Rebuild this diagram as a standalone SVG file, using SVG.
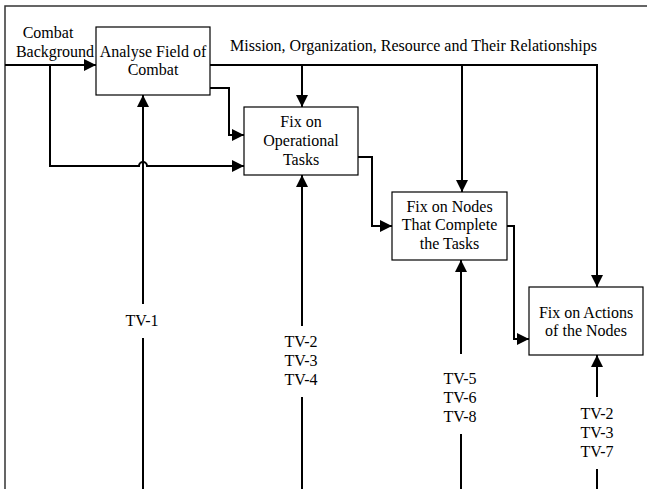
<svg xmlns="http://www.w3.org/2000/svg" width="647" height="489" viewBox="0 0 647 489">
  <style>
    .box { fill: #fff; stroke: #000; stroke-width: 1.2; }
    .conn { fill: none; stroke: #000; stroke-width: 2; }
    .frame { fill: none; stroke: #333; stroke-width: 1.5; }
  </style>
  <defs>
    <marker id="arrow" viewBox="0 0 12 12" refX="12" refY="6" markerWidth="12" markerHeight="12" markerUnits="userSpaceOnUse" orient="auto">
      <path d="M0,0 L12,6 L0,12 Z" fill="#000"/>
    </marker>
  </defs>

  <rect width="647" height="489" fill="#fff"/>

  <!-- outer frame -->
  <path class="frame" d="M5,489 L5,6 L647,6"/>

  <g id="connectors">
    <!-- combat background into analysis -->
    <path class="conn" d="M5,65 L96,65" marker-end="url(#arrow)"/>
    <!-- branch of combat background to operational tasks, hopping over TV-1 -->
    <path class="conn" d="M50,65 L50,166 L139,166 A4,4 0 0 1 147,166 L244,166" marker-end="url(#arrow)"/>
    <!-- analysis output to operational tasks -->
    <path class="conn" d="M210,88 L229,88 L229,135 L244,135" marker-end="url(#arrow)"/>
    <!-- mission / organization / resource bus -->
    <path class="conn" d="M210,65 L597,65 L597,287" marker-end="url(#arrow)"/>
    <path class="conn" d="M302,65 L302,107" marker-end="url(#arrow)"/>
    <path class="conn" d="M462,65 L462,192" marker-end="url(#arrow)"/>
    <!-- operational tasks to nodes -->
    <path class="conn" d="M358,157 L372,157 L372,226 L392,226" marker-end="url(#arrow)"/>
    <!-- nodes to actions -->
    <path class="conn" d="M507,226 L514,226 L514,339 L529,339" marker-end="url(#arrow)"/>
    <!-- TV-1 -->
    <path class="conn" d="M143,489 L143,338"/>
    <path class="conn" d="M143,304 L143,95" marker-end="url(#arrow)"/>
    <!-- TV-2/3/4 -->
    <path class="conn" d="M302,489 L302,397"/>
    <path class="conn" d="M302,326 L302,175" marker-end="url(#arrow)"/>
    <!-- TV-5/6/8 -->
    <path class="conn" d="M461,489 L461,434"/>
    <path class="conn" d="M461,354 L461,260" marker-end="url(#arrow)"/>
    <!-- TV-2/3/7 -->
    <path class="conn" d="M597,489 L597,469"/>
    <path class="conn" d="M597,397 L597,355" marker-end="url(#arrow)"/>

    <g font-family="'Liberation Serif', serif" font-size="16" fill="#000">
      <text x="230" y="51">Mission, Organization, Resource and Their Relationships</text>
      <g text-anchor="middle">
        <text x="48" y="38">Combat</text>
        <text x="55" y="57">Background</text>
        <text x="142" y="326">TV-1</text>
        <text x="301" y="347">TV-2</text>
        <text x="301" y="366">TV-3</text>
        <text x="301" y="385">TV-4</text>
        <text x="460" y="384">TV-5</text>
        <text x="460" y="403">TV-6</text>
        <text x="460" y="422">TV-8</text>
        <text x="597" y="419">TV-2</text>
        <text x="597" y="438">TV-3</text>
        <text x="597" y="457">TV-7</text>
      </g>
    </g>
  </g>

  <g id="analyse-field" font-family="'Liberation Serif', serif" font-size="16" text-anchor="middle">
    <rect class="box" x="96" y="27" width="114" height="68"/>
    <text x="153" y="57">Analyse Field of</text>
    <text x="153" y="75">Combat</text>
  </g>

  <g id="operational-tasks" font-family="'Liberation Serif', serif" font-size="16" text-anchor="middle">
    <rect class="box" x="244" y="107" width="114" height="68"/>
    <text x="301" y="127">Fix on</text>
    <text x="301" y="146">Operational</text>
    <text x="301" y="165">Tasks</text>
  </g>

  <g id="task-nodes" font-family="'Liberation Serif', serif" font-size="16" text-anchor="middle">
    <rect class="box" x="392" y="192" width="115" height="68"/>
    <text x="449.5" y="212">Fix on Nodes</text>
    <text x="449.5" y="230">That Complete</text>
    <text x="449.5" y="249">the Tasks</text>
  </g>

  <g id="node-actions" font-family="'Liberation Serif', serif" font-size="16" text-anchor="middle">
    <rect class="box" x="529" y="287" width="114" height="68"/>
    <text x="586" y="318">Fix on Actions</text>
    <text x="586" y="336">of the Nodes</text>
  </g>
</svg>
